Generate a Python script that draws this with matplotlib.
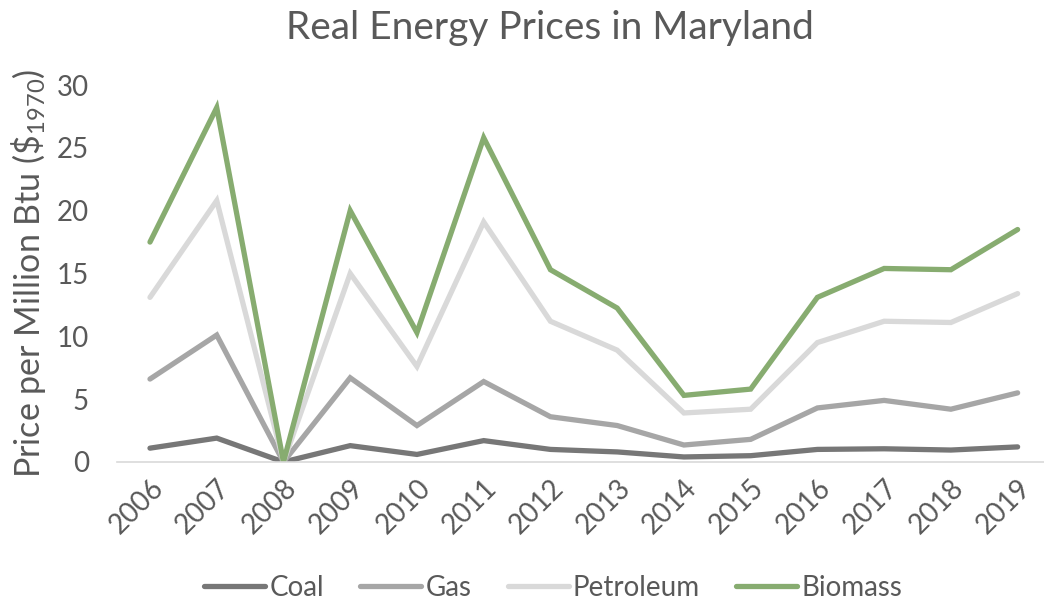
import matplotlib
matplotlib.use("Agg")
import matplotlib.pyplot as plt

years = ["2006", "2007", "2008", "2009", "2010", "2011", "2012",
         "2013", "2014", "2015", "2016", "2017", "2018", "2019"]
coal = [1.1, 1.9, 0.0, 1.3, 0.6, 1.7, 1.0, 0.8, 0.4, 0.5, 1.0, 1.05, 0.95, 1.2]
gas = [6.6, 10.1, 0.0, 6.7, 2.9, 6.4, 3.6, 2.9, 1.35, 1.8, 4.3, 4.9, 4.2, 5.5]
petroleum = [13.1, 20.8, 0.0, 15.0, 7.6, 19.1, 11.2, 8.9, 3.9, 4.2, 9.5, 11.2, 11.1, 13.4]
biomass = [17.5, 28.2, 0.0, 20.0, 10.3, 25.8, 15.3, 12.25, 5.3, 5.8, 13.1, 15.4, 15.3, 18.5]

series = [("Coal", coal, "#777777"),
          ("Gas", gas, "#a6a6a6"),
          ("Petroleum", petroleum, "#d9d9d9"),
          ("Biomass", biomass, "#87ac70")]

plt.rcParams['font.family'] = ['Lato', 'DejaVu Sans']
plt.rcParams['mathtext.fontset'] = 'custom'
plt.rcParams['mathtext.rm'] = 'Lato'
plt.rcParams['mathtext.it'] = 'Lato'
plt.rcParams['mathtext.default'] = 'rm'

text_color = "#595959"

fig = plt.figure(figsize=(10.44, 6.05), dpi=100)
ax = fig.add_axes([0.1117, 0.2364, 0.895, 0.6231])

x = list(range(len(years)))
for name, vals, col in series:
    ax.plot(x, vals, color=col, lw=3.8, label=name,
            solid_capstyle='round', solid_joinstyle='miter')

ax.set_xlim(-0.5, len(years) - 0.5)
ax.set_ylim(0, 30)
ax.set_yticks([0, 5, 10, 15, 20, 25, 30])
ax.set_xticks(x)
ax.set_xticklabels(years, rotation=45, ha='right', rotation_mode='anchor')
ax.tick_params(axis='both', length=0, labelsize=20, colors=text_color)
ax.tick_params(axis='x', pad=9)
ax.tick_params(axis='y', pad=20)

for s in ['top', 'right', 'left']:
    ax.spines[s].set_visible(False)
ax.spines['bottom'].set_color('#d9d9d9')
ax.spines['bottom'].set_linewidth(1.2)

ax.set_ylabel(r'Price per Million Btu (\$$_{1970}$)', fontsize=24.5,
              color=text_color, labelpad=6)

fig.text(0.527, 0.954, "Real Energy Prices in Maryland", ha='center',
         va='center', fontsize=28, color=text_color)

leg = fig.legend(loc='center', bbox_to_anchor=(0.53, 0.028), ncol=4,
                 frameon=False, fontsize=20, handlelength=2.2,
                 handletextpad=0.15, columnspacing=1.3)
for t in leg.get_texts():
    t.set_color(text_color)

fig.savefig("out.png", dpi=100)
